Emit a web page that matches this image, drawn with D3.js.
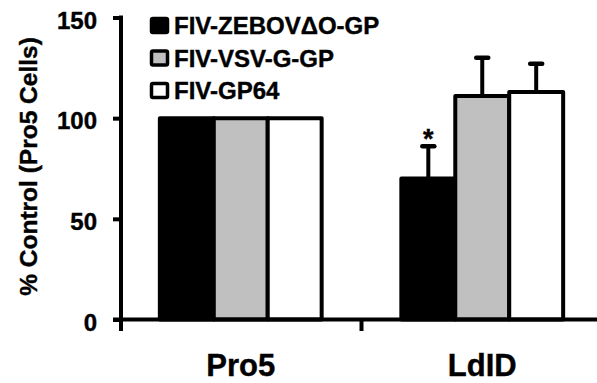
<!DOCTYPE html>
<html>
<head>
<meta charset="utf-8">
<script src="https://cdn.jsdelivr.net/npm/d3@7"></script>
<style>
    body { margin: 0; background: white; }
    text { font-family: Arial, "Liberation Sans", sans-serif; font-weight: bold; fill: black; stroke: black; stroke-width: 0.4px; }
</style>
</head>
<body>
<div id="chart"></div>
<script>
const log = console.log

// data
const groups = ["Pro5", "LdID"]
const seriesNames = ["FIV-ZEBOV\u0394O-GP", "FIV-VSV-G-GP", "FIV-GP64"]
const seriesColors = ["black", "#c0c0c0", "white"]
const pro5Values = [100, 100, 100]
const ldidValues = [70, 111, 113]
const ldidErrors = [16, 19, 14]
const yTicks = [0, 50, 100, 150]
const starred = ["LdID|FIV-ZEBOV\u0394O-GP"]

const width = 597, height = 383

const svg = d3.select("#chart").append("svg")
    .attr("width", width)
    .attr("height", height)

const y = d3.scaleLinear().domain([0, 150]).range([319.5, 17.5])
const x0 = d3.scaleBand().domain(groups).range([120, 603]).paddingInner(0.33).paddingOuter(0.165)
const x1 = d3.scaleBand().domain(seriesNames).range([0, x0.bandwidth()])

function rowsFor(group) {
    const vals = group === "Pro5" ? pro5Values : ldidValues
    const errs = group === "Pro5" ? null : ldidErrors
    return seriesNames.map(function(s, i) {
        return { group: group, name: s, value: vals[i], err: errs ? errs[i] : 0, color: seriesColors[i] }
    })
}

const rows = groups.flatMap(rowsFor)

/** error bars (drawn under the bars so the stem meets the top edge) */
const errG = svg.append("g")
rows.filter(d => d.err > 0).forEach(function(d) {
    const cx = x0(d.group) + x1(d.name) + x1.bandwidth() / 2
    errG.append("line")
        .attr("x1", cx).attr("x2", cx)
        .attr("y1", y(d.value)).attr("y2", y(d.value + d.err))
        .attr("stroke", "black").attr("stroke-width", 4)
    errG.append("line")
        .attr("x1", cx - 6).attr("x2", cx + 6)
        .attr("y1", y(d.value + d.err)).attr("y2", y(d.value + d.err))
        .attr("stroke", "black").attr("stroke-width", 4.5)
        .attr("stroke-linecap", "round")
})

/** bars */
svg.append("g").selectAll("rect")
    .data(rows)
    .join("rect")
    .attr("x", d => x0(d.group) + x1(d.name))
    .attr("y", d => y(d.value))
    .attr("width", x1.bandwidth())
    .attr("height", d => y(0) - y(d.value))
    .attr("fill", d => d.color)
    .attr("stroke", "black")
    .attr("stroke-width", 4)
    .attr("stroke-linejoin", "round")

/** significance star */
rows.filter(d => starred.includes(d.group + "|" + d.name)).forEach(function(d) {
    svg.append("text")
        .attr("x", x0(d.group) + x1(d.name) + x1.bandwidth() / 2)
        .attr("y", y(d.value + d.err) + 2)
        .attr("text-anchor", "middle")
        .attr("font-size", 27)
        .text("*")
})

/** axes */
const yAxis = d3.axisLeft(y).tickValues(yTicks).tickSize(8).tickPadding(16)
const yG = svg.append("g").attr("transform", "translate(121,0)").call(yAxis)
yG.select(".domain").remove()
yG.selectAll(".tick line").attr("stroke", "black").attr("stroke-width", 4)
yG.selectAll(".tick text").attr("font-size", 24).attr("dy", "0.45em")
yG.append("line")
    .attr("x1", 0).attr("x2", 0)
    .attr("y1", y(150) - 2).attr("y2", 331)
    .attr("stroke", "black").attr("stroke-width", 4)

// x axis: ticks sit on group boundaries, labels in the middle
const xG = svg.append("g")
xG.append("line")
    .attr("x1", 113).attr("x2", width)
    .attr("y1", y(0)).attr("y2", y(0))
    .attr("stroke", "black").attr("stroke-width", 4)
const between = x0(groups[1]) - x0.step() * x0.paddingInner() / 2
xG.append("line")
    .attr("x1", between).attr("x2", between)
    .attr("y1", y(0)).attr("y2", 331)
    .attr("stroke", "black").attr("stroke-width", 4)
xG.selectAll("text.group")
    .data(groups)
    .join("text")
    .attr("class", "group")
    .attr("x", d => x0(d) + x0.bandwidth() / 2)
    .attr("y", 376)
    .attr("text-anchor", "middle")
    .attr("font-size", 31)
    .text(d => d)

// y label
svg.append("text")
    .attr("transform", "translate(37," + (y(75) - 2) + ") rotate(-90)")
    .attr("text-anchor", "middle")
    .attr("font-size", 24.5)
    .text("% Control (Pro5 Cells)")

/** legend */
const legend = svg.append("g").attr("transform", "translate(150,17)")
seriesNames.forEach(function(s, i) {
    const row = legend.append("g").attr("transform", "translate(0," + (i * 32.5) + ")")
    row.append("rect")
        .attr("x", 1.5).attr("y", 1.5)
        .attr("width", 16).attr("height", 14)
        .attr("rx", 1.5)
        .attr("fill", seriesColors[i])
        .attr("stroke", "black")
        .attr("stroke-width", 3.5)
    row.append("text")
        .attr("x", 24)
        .attr("y", 17)
        .attr("font-size", 24)
        .text(s)
})
</script>
</body>
</html>
